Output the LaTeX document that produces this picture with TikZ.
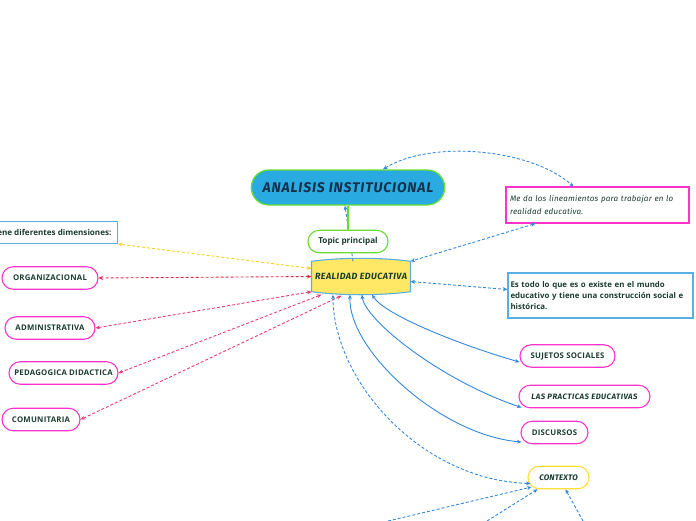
\documentclass[tikz,border=0pt]{standalone}
\usepackage{fontspec}
\setmainfont{Open Sans}
\newfontfamily\handfont{Fira Sans}
\usetikzlibrary{positioning,arrows.meta,shapes.misc,calc,backgrounds}
\definecolor{textgreen}{HTML}{1B3D2F}
\definecolor{titleblue}{HTML}{14304A}
\definecolor{topblue}{HTML}{29ABE2}
\definecolor{leafgreen}{HTML}{66DD33}
\definecolor{notepink}{HTML}{FF33CC}
\definecolor{noteblue}{HTML}{5AAEE0}
\definecolor{coreyellow}{HTML}{FFE866}
\definecolor{ctxyellow}{HTML}{FFE033}
\definecolor{linkblue}{HTML}{3388DD}
\definecolor{linkred}{HTML}{E02848}
\definecolor{linkpink}{HTML}{EE3A78}
\definecolor{linkyellow}{HTML}{EED322}

\begin{document}
\begin{tikzpicture}[x=1pt,y=-1pt,>={Stealth[length=4.5pt,width=4pt]}]
  \tikzstyle{pill}=[rounded rectangle, draw=notepink, line width=1.1pt, fill=white,
text=textgreen, font=\fontsize{7.8}{9}\selectfont\bfseries\addfontfeature{LetterSpace=3}, minimum height=22.5pt, inner xsep=2pt]
  \tikzstyle{handpill}=[pill, font=\handfont\fontsize{7.8}{9}\selectfont\bfseries\itshape\addfontfeature{LetterSpace=6}]
  \tikzstyle{note}=[rectangle, draw=noteblue, line width=1.1pt, fill=white, text=textgreen,
align=left, inner sep=4pt]
  \tikzstyle{dashlink}=[dash pattern=on 3pt off 2pt, line width=0.9pt, <->]
  \tikzstyle{solidlink}=[line width=0.9pt, linkblue, <->]
  \clip (0,0) rectangle (696,520);

  % main topic and core
  \node[rounded rectangle, draw=leafgreen, line width=1.3pt, fill=topblue, text=titleblue,
minimum width=200pt, minimum height=35pt,
font=\handfont\fontsize{14}{16}\selectfont\bfseries\itshape\addfontfeature{LetterSpace=6}] (analisis) at (348,187.5) {ANALISIS INSTITUCIONAL};
  \node[text=textgreen, minimum width=97pt, minimum height=30pt,
font=\handfont\fontsize{9}{10}\selectfont\bfseries\itshape\addfontfeature{LetterSpace=5}] (real) at (361,276.5) {REALIDAD EDUCATIVA};
  \begin{scope}[on background layer]
    \draw[noteblue, fill=coreyellow, line width=1.1pt] (real.north west) .. controls +(30,-4) and +(-30,-4) .. (real.north east)
      -- (real.south east) .. controls +(-30,4) and +(30,4) .. (real.south west) -- cycle;
  \end{scope}

  % notes
  \node[note, draw=notepink, text width=175pt, minimum height=36pt,
font=\handfont\fontsize{8}{13}\selectfont\itshape\addfontfeature{LetterSpace=3}] (lineam) at (597.5,205) {Me da los lineamientos para trabajar en lo\\realidad educativa.};
  \node[note, text width=180pt, inner xsep=2.5pt, minimum height=45pt, font=\fontsize{7.9}{11}\selectfont\bfseries] (estodo) at (600.5,295.5) {Es todo lo que es o existe en el mundo\\educativo y tiene una construcción social e\\histórica.};
  \node[note, anchor=east, minimum height=22pt, inner xsep=6pt, font=\fontsize{8.1}{9}\selectfont\bfseries] (tiene) at (118,232.5) {Tiene diferentes dimensiones:};

  % dimensions
  \node[pill, minimum width=100pt] (organ) at (50,278) {ORGANIZACIONAL};
  \node[pill, minimum width=94pt] (admin) at (50,328) {ADMINISTRATIVA};
  \node[pill, minimum width=113pt] (peda) at (63.5,373) {PEDAGOGICA DIDACTICA};
  \node[pill, minimum width=82pt] (comun) at (41,419.5) {COMUNITARIA};

  % components
  \node[pill, minimum width=99pt] (sujetos) at (567.5,356) {SUJETOS SOCIALES};
  \node[handpill, minimum width=135pt] (practicas) at (584.5,396.5) {LAS PRACTICAS EDUCATIVAS};
  \node[pill, minimum width=71pt] (discursos) at (554.5,432.5) {DISCURSOS};
  \node[handpill, draw=ctxyellow, minimum width=65pt,
font=\handfont\fontsize{8}{9}\selectfont\bfseries\itshape\addfontfeature{LetterSpace=2}] (ctx) at (558.5,477.5) {CONTEXTO};

  \draw[dashlink, linkblue, ->] ($(real.north)+(-8,0)$) -- ($(analisis.south)+(-3,0)$);
  \node[pill, draw=leafgreen, minimum width=84pt, font=\fontsize{8.2}{9}\selectfont\bfseries] (topic) at (348,241.5) {Topic principal};
  \draw[leafgreen, line width=1.3pt] (analisis.south) -- (topic.north);

  \draw[dashlink, linkblue] ($(analisis.north)+(35,0)$) .. controls (430,140) and (530,148) .. ($(lineam.north)+(-24,0)$);
  \draw[dashlink, linkblue] ($(lineam.south)+(-62,0)$) -- (real.north east);
  \draw[dashlink, linkblue] ($(real.east)+(0,5)$) -- ($(estodo.west)+(0,-6)$);
  \draw[dashlink, linkyellow] ($(real.west)+(0,-8)$) -- (tiene.south east);

  \draw[dashlink, linkred] (real.west) -- (organ.east);
  \draw[dashlink, linkpink] (real.south west) -- (admin.east);
  \draw[dashlink, linkpink] ($(real.south west)+(10,3)$) -- (peda.east);
  \draw[dashlink, linkpink] ($(real.south west)+(30,4)$) -- (comun.east);

  \draw[solidlink] ($(real.south)+(11,3)$) .. controls (385,315) and (460,345) .. ($(sujetos.west)+(0,6)$);
  \draw[solidlink] ($(real.south)+(1,3)$) .. controls (365,320) and (440,380) .. ($(practicas.west)+(3,11)$);
  \draw[solidlink] ($(real.south)+(-11,3)$) .. controls (348,350) and (440,435) .. ($(discursos.west)+(1,9.5)$);
  \draw[dashlink, linkblue] ($(real.south)+(-28,3)$) .. controls (333,380) and (420,480) .. ($(ctx.west)+(3,6)$);

  % links coming from below
  \coordinate (ctxa) at (388,521);
  \coordinate (ctxb) at (487,521);
  \coordinate (ctxc) at (583,521);
  \draw[dashlink, linkblue, ->] (ctxa) -- ($(ctx.west)+(4,9.5)$);
  \draw[dashlink, linkblue, ->] (ctxb) -- ($(ctx.south)+(-21,0)$);
  \draw[dashlink, linkblue, ->] (ctxc) -- ($(ctx.south)+(7,0)$);
\end{tikzpicture}
\end{document}
